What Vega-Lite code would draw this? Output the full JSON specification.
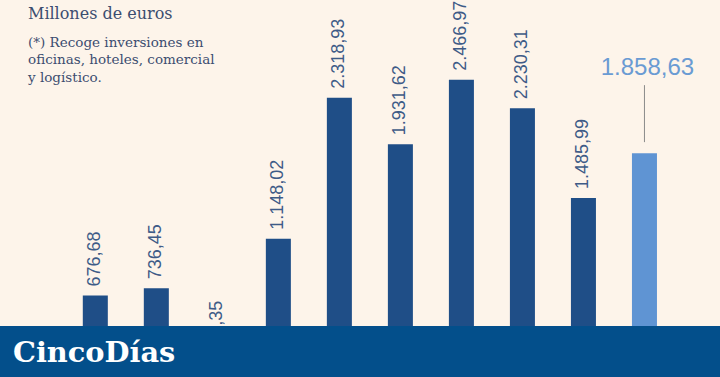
{
  "$schema": "https://vega.github.io/schema/vega-lite/v6.json",
  "width": 720,
  "height": 377,
  "padding": 0,
  "autosize": {"type": "none"},
  "background": "#fdf4ea",
  "config": {
    "view": {"stroke": null},
    "locale": {"number": {"decimal": ",", "thousands": ".", "grouping": [3], "currency": ["", " €"]}}
  },
  "title": {
    "text": "Millones de euros",
    "subtitle": ["(*) Recoge inversiones en", "oficinas, hoteles, comercial", "y logístico."],
    "anchor": "start",
    "frame": "group",
    "orient": "top",
    "offset": -84,
    "dx": 28,
    "font": "DejaVu Serif",
    "fontSize": 16,
    "fontWeight": "normal",
    "color": "#3c4d70",
    "subtitleFont": "DejaVu Serif",
    "subtitleFontSize": 13.5,
    "subtitleColor": "#3c4d70",
    "subtitleLineHeight": 17.5,
    "subtitlePadding": 14
  },
  "data": {
    "values": [
      {"year": "2014", "value": 676.68},
      {"year": "2015", "value": 736.45},
      {"year": "2016", "value": 101.35},
      {"year": "2017", "value": 1148.02},
      {"year": "2018", "value": 2318.93},
      {"year": "2019", "value": 1931.62},
      {"year": "2020", "value": 2466.97},
      {"year": "2021", "value": 2230.31},
      {"year": "2022", "value": 1485.99},
      {"year": "2023", "value": 1858.63}
    ]
  },
  "resolve": {"scale": {"x": "independent"}},
  "layer": [
    {
      "layer": [
        {
          "mark": {"type": "bar", "width": {"band": 0.41}},
          "encoding": {
            "color": {"condition": {"test": "datum.year === '2023'", "value": "#5f94d3"}, "value": "#1f4e87"}
          }
        },
        {
          "transform": [{"filter": "datum.year !== '2023'"}],
          "mark": {"type": "text", "angle": 270, "align": "left", "baseline": "middle", "dx": 9, "font": "Liberation Sans", "fontSize": 18, "color": "#3e5b87"},
          "encoding": {"text": {"field": "value", "type": "quantitative", "format": ",.2f"}}
        },
        {
          "transform": [{"filter": "datum.year === '2023'"}],
          "mark": {"type": "text", "align": "center", "baseline": "alphabetic", "dy": -78, "dx": 3, "font": "Liberation Sans", "fontSize": 24, "color": "#6a9bd3"},
          "encoding": {"text": {"field": "value", "type": "quantitative", "format": ",.2f"}}
        },
        {
          "transform": [{"filter": "datum.year === '2023'"}],
          "mark": {"type": "rule", "yOffset": -11, "y2Offset": -68, "color": "#8a8a8a", "strokeWidth": 1},
          "encoding": {"y2": {"field": "value"}}
        }
      ],
      "encoding": {
        "x": {"field": "year", "type": "nominal", "axis": null, "scale": {"paddingInner": 0, "paddingOuter": 0.9, "align": 0.59}},
        "y": {"field": "value", "type": "quantitative", "axis": null, "scale": {"domain": [0, 3130], "nice": false, "zero": true}}
      }
    },
    {
      "data": {"values": [{"brand": "CincoDías"}]},
      "layer": [
        {
          "mark": {"type": "rect", "color": "#034f8b"},
          "encoding": {
            "x": {"datum": 0, "type": "quantitative", "axis": null, "scale": {"domain": [0, 1], "nice": false}},
            "x2": {"datum": 1},
            "y": {"datum": 0, "type": "quantitative"},
            "y2": {"datum": 424}
          }
        },
        {
          "mark": {"type": "text", "align": "left", "baseline": "alphabetic", "font": "DejaVu Serif", "fontWeight": "bold", "fontSize": 28.8, "color": "#ffffff"},
          "encoding": {
            "x": {"datum": 0.018, "type": "quantitative", "axis": null, "scale": {"domain": [0, 1], "nice": false}},
            "y": {"datum": 125, "type": "quantitative"},
            "text": {"field": "brand"}
          }
        }
      ]
    }
  ]
}
